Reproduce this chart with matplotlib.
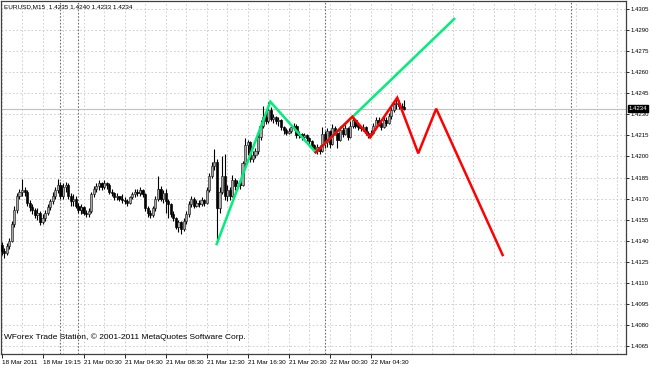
import matplotlib
matplotlib.use("Agg")
import matplotlib.pyplot as plt
import matplotlib.transforms as mtransforms
import numpy as np

symbol = "EURUSD,M15"
first_open = 1.4137

# M15 bars (bar index = position on the time axis)
closes = [
    1.4133, 1.4131, 1.4136, 1.4140, 1.4152, 1.4162, 1.4172, 1.4175, 1.4176, 1.4175,
    1.4167, 1.4164, 1.4162, 1.4158, 1.4160, 1.4153, 1.4156, 1.4160, 1.4164, 1.4168,
    1.4172, 1.4176, 1.4180, 1.4172, 1.4178, 1.4180, 1.4172, 1.4168, 1.4170, 1.4165,
    1.4162, 1.4164, 1.4160, 1.4159, 1.4161, 1.4173, 1.4177, 1.4179, 1.4181, 1.4178,
    1.4181, 1.4180, 1.4175, 1.4174, 1.4171, 1.4172, 1.4170, 1.4169, 1.4168, 1.4167,
    1.4171, 1.4173, 1.4175, 1.4174, 1.4176, 1.4173, 1.4163, 1.4160, 1.4158, 1.4163,
    1.4170, 1.4177, 1.4170, 1.4174, 1.4168, 1.4166, 1.4159, 1.4156, 1.4150, 1.4153,
    1.4148, 1.4154, 1.4159, 1.4166, 1.4170, 1.4165, 1.4167, 1.4166, 1.4169, 1.4167,
    1.4176, 1.4186, 1.4193, 1.4196, 1.4163, 1.4175, 1.4186, 1.4172, 1.4176, 1.4172,
    1.4183, 1.4179, 1.4181, 1.4180, 1.4195, 1.4208, 1.4210, 1.4198, 1.4201, 1.4204,
    1.4214, 1.4222, 1.4228, 1.4225, 1.4233, 1.4227, 1.4228, 1.4225, 1.4226, 1.4221,
    1.4219, 1.4217, 1.4218, 1.4221, 1.4222, 1.4215, 1.4216, 1.4214, 1.4215, 1.4213,
    1.4211, 1.4208, 1.4205, 1.4207, 1.4204, 1.4216, 1.4210, 1.4218, 1.4209, 1.4220,
    1.4217, 1.4212, 1.4219, 1.4216, 1.4220, 1.4214, 1.4222, 1.4226, 1.4222, 1.4221,
    1.4220, 1.4221, 1.4217, 1.4215, 1.4217, 1.4222, 1.4226, 1.4224, 1.4221, 1.4226,
    1.4224, 1.4229, 1.4233, 1.4237, 1.4238, 1.4236, 1.4235, 1.4234,
]
highs = [
    1.4139, 1.4135, 1.4138, 1.4142, 1.4154, 1.4165, 1.4174, 1.4177, 1.4184, 1.4178,
    1.4176, 1.4169, 1.4166, 1.4163, 1.4163, 1.4161, 1.4159, 1.4162, 1.4166, 1.4170,
    1.4175, 1.4178, 1.4184, 1.4182, 1.4181, 1.4182, 1.4181, 1.4174, 1.4173, 1.4172,
    1.4167, 1.4166, 1.4165, 1.4162, 1.4163, 1.4175, 1.4179, 1.4181, 1.4183, 1.4182,
    1.4183, 1.4182, 1.4181, 1.4177, 1.4175, 1.4174, 1.4172, 1.4173, 1.4171, 1.4170,
    1.4172, 1.4175, 1.4177, 1.4177, 1.4178, 1.4177, 1.4174, 1.4165, 1.4162, 1.4165,
    1.4172, 1.4186, 1.4179, 1.4176, 1.4177, 1.4170, 1.4167, 1.4161, 1.4157, 1.4155,
    1.4154, 1.4156, 1.4161, 1.4168, 1.4172, 1.4171, 1.4169, 1.4169, 1.4171, 1.4170,
    1.4178, 1.4188, 1.4196, 1.4205, 1.4198, 1.4178, 1.4200, 1.4202, 1.4180, 1.4178,
    1.4187, 1.4185, 1.4183, 1.4183, 1.4197, 1.4213, 1.4212, 1.4211, 1.4204, 1.4206,
    1.4216, 1.4226, 1.4236, 1.4231, 1.4239, 1.4235, 1.4230, 1.4229, 1.4228, 1.4227,
    1.4222, 1.4220, 1.4220, 1.4223, 1.4224, 1.4223, 1.4218, 1.4217, 1.4217, 1.4216,
    1.4214, 1.4212, 1.4209, 1.4209, 1.4208, 1.4221, 1.4218, 1.4220, 1.4219, 1.4223,
    1.4222, 1.4219, 1.4222, 1.4221, 1.4223, 1.4221, 1.4225, 1.4228, 1.4227, 1.4223,
    1.4222, 1.4223, 1.4222, 1.4218, 1.4219, 1.4224, 1.4228, 1.4228, 1.4225, 1.4229,
    1.4228, 1.4231, 1.4235, 1.4239, 1.4241, 1.4240, 1.4238, 1.4240,
]
lows = [
    1.4130, 1.4128, 1.4130, 1.4134, 1.4139, 1.4150, 1.4160, 1.4170, 1.4172, 1.4172,
    1.4165, 1.4161, 1.4159, 1.4156, 1.4155, 1.4151, 1.4152, 1.4154, 1.4158, 1.4162,
    1.4166, 1.4170, 1.4174, 1.4170, 1.4170, 1.4175, 1.4170, 1.4165, 1.4165, 1.4163,
    1.4160, 1.4159, 1.4158, 1.4157, 1.4157, 1.4160, 1.4171, 1.4175, 1.4176, 1.4176,
    1.4177, 1.4177, 1.4173, 1.4172, 1.4169, 1.4169, 1.4168, 1.4167, 1.4166, 1.4165,
    1.4166, 1.4170, 1.4171, 1.4172, 1.4172, 1.4171, 1.4161, 1.4157, 1.4156, 1.4157,
    1.4161, 1.4168, 1.4168, 1.4167, 1.4160, 1.4156, 1.4157, 1.4154, 1.4148, 1.4146,
    1.4145, 1.4147, 1.4152, 1.4157, 1.4164, 1.4163, 1.4164, 1.4164, 1.4165, 1.4165,
    1.4166, 1.4175, 1.4185, 1.4190, 1.4138, 1.4160, 1.4173, 1.4169, 1.4168, 1.4169,
    1.4171, 1.4176, 1.4177, 1.4177, 1.4179, 1.4193, 1.4201, 1.4196, 1.4196, 1.4199,
    1.4202, 1.4212, 1.4220, 1.4223, 1.4224, 1.4225, 1.4224, 1.4223, 1.4222, 1.4219,
    1.4216, 1.4215, 1.4216, 1.4217, 1.4219, 1.4213, 1.4213, 1.4212, 1.4212, 1.4211,
    1.4209, 1.4206, 1.4203, 1.4202, 1.4202, 1.4203, 1.4206, 1.4207, 1.4206, 1.4208,
    1.4215, 1.4206, 1.4211, 1.4214, 1.4215, 1.4212, 1.4213, 1.4220, 1.4220, 1.4219,
    1.4218, 1.4218, 1.4215, 1.4213, 1.4214, 1.4216, 1.4221, 1.4222, 1.4219, 1.4220,
    1.4222, 1.4223, 1.4227, 1.4232, 1.4234, 1.4234, 1.4233, 1.4233,
]

# projected zigzag lines (bar index, price)
green_x = [83.9, 104.8, 122.5, 176.5]
green_y = [1.41376, 1.42390, 1.42029, 1.42979]
red_x = [122.5, 136.8, 143.7, 154.3, 162.5, 169.5, 195.4]
red_y = [1.42029, 1.42283, 1.42136, 1.42418, 1.42022, 1.42340, 1.41298]

time_tick_bars = [0, 16, 32, 48, 64, 80, 96, 112, 128, 144]
time_labels = ["18 Mar 2011", "18 Mar 19:15", "21 Mar 00:30", "21 Mar 04:30",
               "21 Mar 08:30", "21 Mar 12:30", "21 Mar 16:30", "21 Mar 20:30",
               "22 Mar 00:30", "22 Mar 04:30"]
day_breaks = [23, 30, 126, 222]
price_ticks = [1.4065, 1.4080, 1.4095, 1.4110, 1.4125, 1.4140, 1.4155, 1.4170,
               1.4185, 1.4200, 1.4215, 1.4230, 1.4245, 1.4260, 1.4275, 1.4290, 1.4305]
copyright_text = "WForex Trade Station, \u00a9 2001-2011 MetaQuotes Software Corp."

FONT = "Liberation Sans"
GREEN = "#00ee7a"
RED = "#ff0000"

opens = [first_open] + closes[:-1]
o = np.array(opens)
c = np.array(closes)
h = np.array(highs)
l = np.array(lows)
x = np.arange(len(c))
bid = closes[-1]

fig = plt.figure(figsize=(6.5, 3.65), dpi=100)
ax = fig.add_axes([1 / 650, 11 / 365, 625 / 650, 353 / 365])
ax.set_xlim(-0.2, 243.5)
ax.set_ylim(1.40593, 1.43107)

# grid like the terminal: dotted grey, every 15 pips and every 8 bars
grid_style = dict(color="#c8c8c8", linewidth=0.6, linestyle=(0, (2, 2.5)), zorder=0)
for p in price_ticks:
    ax.axhline(p, **grid_style)
for gx in np.arange(0, 244, 8):
    ax.axvline(gx, **grid_style)
for d in day_breaks:
    ax.axvline(d, color="#707070", linewidth=0.8, linestyle=(0, (1.5, 1.5)), zorder=0.5)

# bid line
ax.axhline(bid, color="#c0c0c0", linewidth=0.8, zorder=0.6)

# candles
up = c >= o
body_lo = np.minimum(o, c)
body_h = np.maximum(np.abs(c - o), 0.00005)
ax.vlines(x, l, h, color="black", linewidth=0.8, zorder=2)
ax.bar(x[up], body_h[up], width=0.85, bottom=body_lo[up], color="#a8a8a8",
       edgecolor="#202020", linewidth=0.45, zorder=3)
ax.bar(x[~up], body_h[~up], width=0.85, bottom=body_lo[~up], color="black",
       edgecolor="black", linewidth=0.45, zorder=3)

ax.plot(green_x, green_y, color=GREEN, linewidth=1.8, solid_joinstyle="miter", zorder=4)
ax.plot(red_x, red_y, color=RED, linewidth=1.8, solid_joinstyle="miter", zorder=5)

# axes / ticks
for side in ["left", "right", "top", "bottom"]:
    ax.spines[side].set_color("#404040")
    ax.spines[side].set_linewidth(0.9)
ax.yaxis.tick_right()
ax.set_yticks(price_ticks)
ax.set_yticklabels([f"{p:.4f}" for p in price_ticks])
ax.set_xticks(time_tick_bars)
ax.set_xticklabels(time_labels)
ax.tick_params(axis="y", direction="out", length=2, width=0.6, pad=1,
               labelsize=4.3, colors="black")
ax.tick_params(axis="x", direction="out", length=3, width=0.6, pad=1.2,
               labelsize=4.6, colors="black")
for lab in ax.get_xticklabels():
    lab.set_horizontalalignment("left")
    lab.set_fontfamily(FONT)
for lab in ax.get_yticklabels():
    lab.set_fontfamily(FONT)

# bid price box on the scale
trans = mtransforms.blended_transform_factory(ax.transAxes, ax.transData)
ax.text(1.004, bid, f"{bid:.4f}", transform=trans, ha="left", va="center",
        fontsize=4.3, family=FONT, color="white", clip_on=False, zorder=10,
        bbox=dict(boxstyle="square,pad=0.12", facecolor="black", edgecolor="black"))

header = f"{symbol}  {opens[-1]:.4f} {highs[-1]:.4f} {lows[-1]:.4f} {closes[-1]:.4f}"
ax.text(0.004, 0.983, header, transform=ax.transAxes, ha="left", va="center",
        fontsize=4.6, family=FONT, color="black")
ax.text(0.004, 0.048, copyright_text, transform=ax.transAxes, ha="left", va="center",
        fontsize=6.0, family=FONT, color="black")

fig.savefig("out.png", dpi=100, facecolor="white")
